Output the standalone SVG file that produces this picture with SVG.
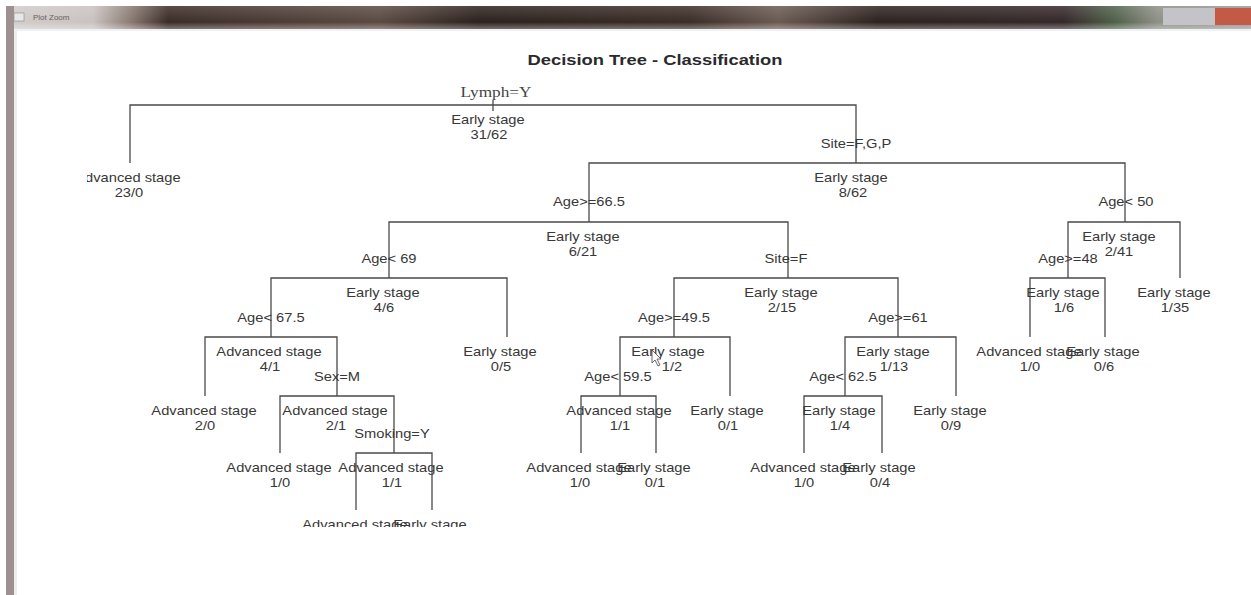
<svg xmlns="http://www.w3.org/2000/svg" width="1251" height="595" viewBox="0 0 1251 595">
<defs>
<linearGradient id="tb" x1="0" y1="0" x2="1" y2="0">
<stop offset="0" stop-color="#d2cccb"/>
<stop offset="0.07" stop-color="#c9c2c0"/>
<stop offset="0.1" stop-color="#8a7a72"/>
<stop offset="0.13" stop-color="#3a2c26"/>
<stop offset="0.3" stop-color="#5a4a42"/>
<stop offset="0.38" stop-color="#2c211d"/>
<stop offset="0.55" stop-color="#3b2d27"/>
<stop offset="0.62" stop-color="#6a5a52"/>
<stop offset="0.7" stop-color="#2d221e"/>
<stop offset="0.85" stop-color="#35282a"/>
<stop offset="0.89" stop-color="#4f5f48"/>
<stop offset="0.925" stop-color="#8e8f86"/>
<stop offset="1" stop-color="#9a9a98"/>
</linearGradient>
<linearGradient id="tbv" x1="0" y1="0" x2="0" y2="1">
<stop offset="0" stop-color="#ffffff" stop-opacity="0.15"/>
<stop offset="0.7" stop-color="#ffffff" stop-opacity="0"/>
<stop offset="1" stop-color="#ffffff" stop-opacity="0.35"/>
</linearGradient>
<clipPath id="plot"><rect x="87" y="30" width="1164" height="497"/></clipPath>
<style>
.ln{fill:none;stroke:#4a4a4a;stroke-width:1.3}
.t{font-family:"Liberation Sans",Arial,sans-serif;font-size:13px;fill:#383838;text-anchor:middle;transform-box:fill-box;transform-origin:center;transform:scaleX(1.13)}
.s{font-family:"Liberation Serif","Times New Roman",serif;font-size:15px;fill:#444;text-anchor:middle;transform-box:fill-box;transform-origin:center;transform:scaleX(1.15)}
</style>
</defs>
<rect width="1251" height="595" fill="#ffffff"/>
<!-- window chrome -->
<rect x="6" y="6" width="1245" height="23" fill="url(#tb)"/>
<rect x="6" y="6" width="1245" height="23" fill="url(#tbv)"/>
<rect x="1163" y="8" width="52" height="17" fill="#c4c4c8"/>
<rect x="1215" y="8" width="36" height="17" fill="#c25a45"/>
<rect x="14" y="13" width="10" height="8" fill="#e8e8e8" stroke="#888" stroke-width="0.6"/>
<text x="33" y="20" font-family="Liberation Sans,Arial,sans-serif" font-size="8px" fill="#6a6060">Plot Zoom</text>
<rect x="6" y="6" width="8" height="589" fill="#9c9090"/>
<rect x="14" y="29" width="3" height="566" fill="#eeeee6"/>
<rect x="14" y="29" width="1237" height="2" fill="#eef2f4"/>
<text x="655" y="65" font-family="Liberation Sans,Arial,sans-serif" font-size="15px" font-weight="bold" fill="#2a2a2a" text-anchor="middle" textLength="255" lengthAdjust="spacingAndGlyphs">Decision Tree - Classification</text>
<g clip-path="url(#plot)">
<g id="connectors">
<path class="ln" d="M493 100V111"/>
<path class="ln" d="M130 163V105H856V163"/>
<path class="ln" d="M589 222V163H1125V222"/>
<path class="ln" d="M389 278V222H788V278"/>
<path class="ln" d="M1068 278V222H1180V278"/>
<path class="ln" d="M271 337V278H507V337"/>
<path class="ln" d="M674 337V278H898V337"/>
<path class="ln" d="M1030 337V278H1105V337"/>
<path class="ln" d="M205 396V337H337V396"/>
<path class="ln" d="M620 396V337H730V396"/>
<path class="ln" d="M845 396V337H956V396"/>
<path class="ln" d="M280 453V396H394V453"/>
<path class="ln" d="M581 453V396H656V453"/>
<path class="ln" d="M804 453V396H882V453"/>
<path class="ln" d="M356 510V453H432V510"/>
</g>
<g id="n-root"><text class="s" x="496" y="97">Lymph=Y</text><text class="t" x="488" y="124">Early stage</text><text class="t" x="489" y="139">31/62</text></g>
<g id="n-23-0"><text class="t" x="128" y="182">Advanced stage</text><text class="t" x="129" y="197">23/0</text></g>
<g id="n-8-62"><text class="t" x="856" y="148">Site=F,G,P</text><text class="t" x="851" y="182">Early stage</text><text class="t" x="853" y="197">8/62</text></g>
<g id="n-6-21"><text class="t" x="589" y="206">Age&gt;=66.5</text><text class="t" x="583" y="241">Early stage</text><text class="t" x="583" y="256">6/21</text></g>
<g id="n-2-41"><text class="t" x="1126" y="206">Age&lt; 50</text><text class="t" x="1119" y="241">Early stage</text><text class="t" x="1119" y="256">2/41</text></g>
<g id="n-4-6"><text class="t" x="389" y="263">Age&lt; 69</text><text class="t" x="383" y="297">Early stage</text><text class="t" x="384" y="312">4/6</text></g>
<g id="n-2-15"><text class="t" x="786" y="263">Site=F</text><text class="t" x="781" y="297">Early stage</text><text class="t" x="782" y="312">2/15</text></g>
<g id="n-1-6"><text class="t" x="1068" y="263">Age&gt;=48</text><text class="t" x="1063" y="297">Early stage</text><text class="t" x="1064" y="312">1/6</text></g>
<g id="n-1-35"><text class="t" x="1174" y="297">Early stage</text><text class="t" x="1175" y="312">1/35</text></g>
<g id="n-0-5"><text class="t" x="500" y="356">Early stage</text><text class="t" x="501" y="371">0/5</text></g>
<g id="n-4-1"><text class="t" x="271" y="322">Age&lt; 67.5</text><text class="t" x="269" y="356">Advanced stage</text><text class="t" x="270" y="371">4/1</text></g>
<g id="n-1-2"><text class="t" x="674" y="322">Age&gt;=49.5</text><text class="t" x="668" y="356">Early stage</text><text class="t" x="672" y="371">1/2</text></g>
<g id="n-1-13"><text class="t" x="898" y="322">Age&gt;=61</text><text class="t" x="893" y="356">Early stage</text><text class="t" x="894" y="371">1/13</text></g>
<g id="n-1-0a"><text class="t" x="1029" y="356">Advanced stage</text><text class="t" x="1030" y="371">1/0</text></g>
<g id="n-0-6"><text class="t" x="1103" y="356">Early stage</text><text class="t" x="1104" y="371">0/6</text></g>
<g id="n-2-0"><text class="t" x="204" y="415">Advanced stage</text><text class="t" x="205" y="430">2/0</text></g>
<g id="n-2-1"><text class="t" x="337" y="381">Sex=M</text><text class="t" x="335" y="415">Advanced stage</text><text class="t" x="336" y="430">2/1</text></g>
<g id="n-1-1a"><text class="t" x="618" y="381">Age&lt; 59.5</text><text class="t" x="619" y="415">Advanced stage</text><text class="t" x="620" y="430">1/1</text></g>
<g id="n-0-1a"><text class="t" x="727" y="415">Early stage</text><text class="t" x="728" y="430">0/1</text></g>
<g id="n-1-4"><text class="t" x="843" y="381">Age&lt; 62.5</text><text class="t" x="839" y="415">Early stage</text><text class="t" x="840" y="430">1/4</text></g>
<g id="n-0-9"><text class="t" x="950" y="415">Early stage</text><text class="t" x="951" y="430">0/9</text></g>
<g id="n-1-0b"><text class="t" x="279" y="472">Advanced stage</text><text class="t" x="280" y="487">1/0</text></g>
<g id="n-1-1b"><text class="t" x="392" y="438">Smoking=Y</text><text class="t" x="391" y="472">Advanced stage</text><text class="t" x="392" y="487">1/1</text></g>
<g id="n-1-0c"><text class="t" x="579" y="472">Advanced stage</text><text class="t" x="580" y="487">1/0</text></g>
<g id="n-0-1b"><text class="t" x="654" y="472">Early stage</text><text class="t" x="655" y="487">0/1</text></g>
<g id="n-1-0d"><text class="t" x="803" y="472">Advanced stage</text><text class="t" x="804" y="487">1/0</text></g>
<g id="n-0-4"><text class="t" x="879" y="472">Early stage</text><text class="t" x="880" y="487">0/4</text></g>
<g id="n-leaf-a"><text class="t" x="355" y="529">Advanced stage</text></g>
<g id="n-leaf-b"><text class="t" x="430" y="529">Early stage</text></g>
</g>
<path d="M652 350L652 363L655 360L658 366L660 365L657 359L661 359Z" fill="#fff" stroke="#444" stroke-width="0.8"/>
</svg>
